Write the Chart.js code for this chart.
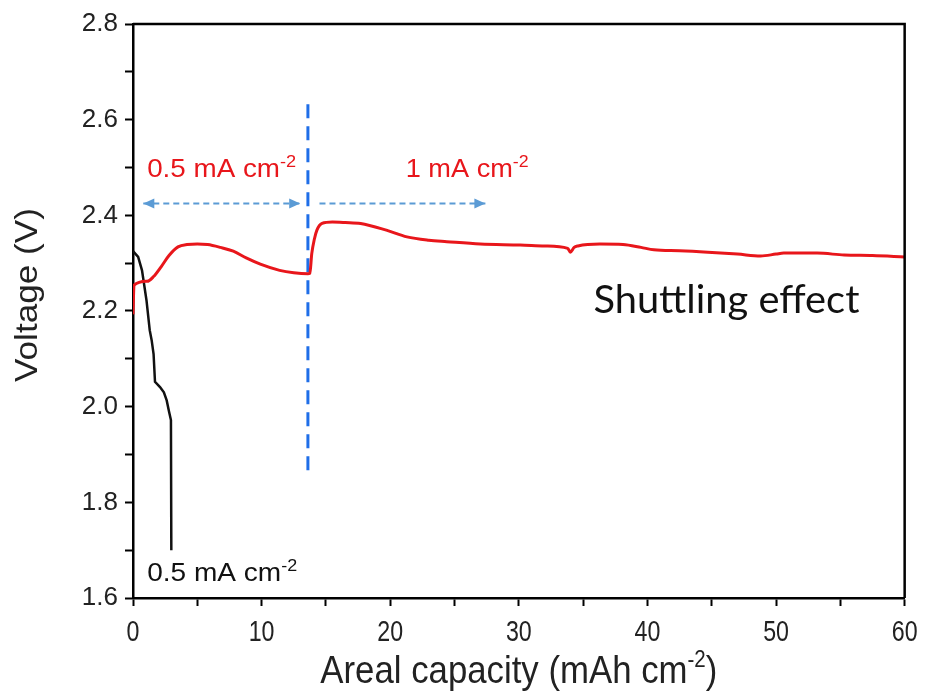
<!DOCTYPE html>
<html>
<head>
<meta charset="utf-8">
<script src="https://cdn.jsdelivr.net/npm/chart.js@4/dist/chart.umd.min.js"></script>
<style>
  html, body { margin: 0; padding: 0; background: #ffffff; }
  #wrap { width: 926px; height: 697px; }
</style>
</head>
<body>
<div id="wrap"><canvas id="c" width="926" height="697"></canvas></div>
<script>
// Cell with shuttling effect: charge curve, 0.5 mA cm-2 then 1 mA cm-2
const shuttleCapacity = [0, 0.08, 1.1, 1.6, 2.2, 2.8, 3.5, 4.2, 5.0, 5.8, 6.8, 7.8, 8.8, 9.9, 11.4, 12.5, 13.6,
  13.75, 13.9, 14.1, 14.3, 14.7, 15.5, 16.5, 17.7, 19.7, 21.3, 23.0, 24.4, 27.0, 30.1, 32.0, 33.8, 34.0, 34.3, 34.6,
  36.3, 38.1, 39.5, 40.5, 42.5, 44.7, 47.0, 48.8, 50.0, 50.6, 53.2, 55.3, 57.5, 60.0];
const shuttleVoltage = [2.193, 2.254, 2.262, 2.272, 2.293, 2.316, 2.334, 2.339, 2.340, 2.339, 2.333, 2.325, 2.311, 2.298, 2.285, 2.280, 2.278,
  2.279, 2.320, 2.350, 2.369, 2.383, 2.386, 2.385, 2.383, 2.369, 2.355, 2.348, 2.345, 2.340, 2.338, 2.336, 2.331, 2.323, 2.333, 2.336,
  2.340, 2.339, 2.333, 2.328, 2.326, 2.323, 2.319, 2.315, 2.319, 2.321, 2.321, 2.317, 2.316, 2.313];

// Normal cell: 0.5 mA cm-2
const normalCapacity = [0, 0.4, 0.7, 1.05, 1.3, 1.45, 1.6, 1.71, 2.1, 2.4, 2.62, 2.8, 2.95, 2.98];
const normalVoltage = [2.325, 2.313, 2.285, 2.222, 2.16, 2.139, 2.11, 2.052, 2.041, 2.030, 2.013, 1.99, 1.972, 1.70];

// Current switch marker and rate arrows
const switchCapacity = [13.6, 13.6];
const switchVoltage = [1.867, 2.635];
const arrowVoltage = 2.425;
const lowRateArrow = [0.8, 13.0];
const highRateArrow = [14.5, 27.4];

// Axis ticks
const xTickValues = [0, 10, 20, 30, 40, 50, 60];
const xTickLabels = ['0', '10', '20', '30', '40', '50', '60'];
const yTickValues = [1.6, 1.8, 2.0, 2.2, 2.4, 2.6, 2.8];
const yTickLabels = ['1.6', '1.8', '2.0', '2.2', '2.4', '2.6', '2.8'];

const RED = '#e8161b';
const SANS = "'Liberation Sans', Arial, sans-serif";
const pts = (xs, ys) => xs.map((x, i) => ({ x, y: ys[i] }));

function drawText(ctx, parts, x, y, opt) {
  // parts: [{t, sup}] drawn left to right; squeezed/stretched to opt.width or opt.sx
  ctx.save();
  const base = `${opt.size}px ${opt.family}`;
  const supF = `${opt.supSize || opt.size}px ${opt.family}`;
  let total = 0;
  const widths = parts.map(p => { ctx.font = p.sup ? supF : base; const w = ctx.measureText(p.t).width; total += w; return w; });
  const sx = opt.width ? opt.width / total : (opt.sx || 1);
  ctx.translate(x, y);
  if (opt.rotate) ctx.rotate(opt.rotate);
  ctx.scale(sx, 1);
  let cx = opt.align === 'center' ? -total / 2 : 0;
  ctx.fillStyle = opt.color;
  ctx.textBaseline = 'alphabetic';
  ctx.textAlign = 'left';
  parts.forEach((p, i) => {
    ctx.font = p.sup ? supF : base;
    ctx.fillText(p.t, cx, p.sup ? -(opt.raise || 0) : 0);
    cx += widths[i];
  });
  ctx.restore();
}

const decor = {
  id: 'decor',
  afterDraw(chart) {
    const { ctx, chartArea: a, scales: { x, y } } = chart;
    // closing frame
    ctx.save();
    ctx.strokeStyle = '#000';
    ctx.lineWidth = 2.5;
    ctx.beginPath();
    ctx.moveTo(a.left, a.top); ctx.lineTo(a.right, a.top); ctx.lineTo(a.right, a.bottom);
    ctx.stroke();
    ctx.restore();

    // condensed x tick labels at the scale's own tick positions
    x.ticks.forEach(t => {
      const i = xTickValues.indexOf(t.value);
      if (i < 0) return;
      drawText(ctx, [{ t: xTickLabels[i] }], x.getPixelForValue(t.value), 641,
        { size: 29, family: SANS, color: '#222', sx: 0.8, align: 'center' });
    });

    // arrow heads
    const head = (xv, dir) => {
      const px = x.getPixelForValue(xv), py = y.getPixelForValue(arrowVoltage);
      ctx.save();
      ctx.fillStyle = '#5b9bd5';
      ctx.beginPath();
      ctx.moveTo(px, py);
      ctx.lineTo(px - dir * 11, py - 5);
      ctx.lineTo(px - dir * 11, py + 5);
      ctx.closePath();
      ctx.fill();
      ctx.restore();
    };
    head(lowRateArrow[0], -1);
    head(lowRateArrow[1], 1);
    head(highRateArrow[1], 1);

    drawText(ctx, [{ t: '0.5 mA cm' }, { t: '-2', sup: true }], x.getPixelForValue(1.1), y.getPixelForValue(2.480),
      { size: 26, supSize: 17, family: SANS, color: RED, raise: 10, width: 149 });
    drawText(ctx, [{ t: '1 mA cm' }, { t: '-2', sup: true }], x.getPixelForValue(21.2), y.getPixelForValue(2.481),
      { size: 26, supSize: 17, family: SANS, color: RED, raise: 10, width: 123 });
    drawText(ctx, [{ t: '0.5 mA cm' }, { t: '-2', sup: true }], x.getPixelForValue(1.1), y.getPixelForValue(1.635),
      { size: 25, supSize: 16, family: SANS, color: '#111', raise: 10, width: 150 });
    drawText(ctx, [{ t: 'Shuttling effect' }], x.getPixelForValue(35.8), y.getPixelForValue(2.195),
      { size: 38, family: "Lato, 'Open Sans', sans-serif", color: '#111', width: 266 });

    // axis titles
    drawText(ctx, [{ t: 'Areal capacity (mAh cm' }, { t: '-2', sup: true }, { t: ')' }], (a.left + a.right) / 2, 683,
      { size: 39, supSize: 23, family: SANS, color: '#222', raise: 16, width: 397, align: 'center' });
    drawText(ctx, [{ t: 'Voltage (V)' }], 37, 295,
      { size: 31, family: SANS, color: '#222', width: 174, align: 'center', rotate: -Math.PI / 2 });
  }
};

new Chart(document.getElementById('c'), {
  type: 'line',
  data: {
    datasets: [
      { data: pts(shuttleCapacity, shuttleVoltage), borderColor: RED, borderWidth: 3, pointRadius: 0,
        cubicInterpolationMode: 'monotone', order: 0 },
      { data: pts(normalCapacity, normalVoltage), borderColor: '#111', borderWidth: 2.5, pointRadius: 0, tension: 0, order: 1 },
      { data: pts(switchCapacity, switchVoltage), borderColor: '#1f6ee8', borderWidth: 3, borderDash: [14, 8],
        pointRadius: 0, order: 2 },
      { data: pts(lowRateArrow, [arrowVoltage, arrowVoltage]), borderColor: '#5b9bd5', borderWidth: 2, borderDash: [6, 4],
        pointRadius: 0, order: 3 },
      { data: pts(highRateArrow, [arrowVoltage, arrowVoltage]), borderColor: '#5b9bd5', borderWidth: 2, borderDash: [6, 4],
        pointRadius: 0, order: 3 }
    ]
  },
  options: {
    responsive: false,
    animation: false,
    devicePixelRatio: 1,
    layout: { padding: { left: 0, top: 24, right: 21, bottom: 0 } },
    plugins: { legend: { display: false }, tooltip: { enabled: false } },
    scales: {
      x: {
        type: 'linear', min: 0, max: 60,
        afterFit(s) { s.height = 99; },
        border: { display: true, color: '#000', width: 2.5 },
        grid: { drawOnChartArea: false, drawTicks: true, tickLength: 8, tickWidth: 2, tickColor: '#000' },
        ticks: {
          stepSize: 5, autoSkip: false, maxRotation: 0, padding: 8, color: 'rgba(0,0,0,0)',
          font: { family: SANS, size: 24 },
          callback: v => { const i = xTickValues.indexOf(v); return i >= 0 ? xTickLabels[i] : ''; }
        }
      },
      y: {
        type: 'linear', min: 1.6, max: 2.8,
        afterFit(s) { s.width = 133; },
        border: { display: true, color: '#000', width: 2.5 },
        grid: { drawOnChartArea: false, drawTicks: true, tickLength: 8, tickWidth: 2, tickColor: '#000' },
        ticks: {
          stepSize: 0.1, autoSkip: false, maxTicksLimit: 30, padding: 7, color: '#222',
          font: { family: SANS, size: 26 },
          callback: v => { const i = yTickValues.findIndex(t => Math.abs(t - v) < 1e-6); return i >= 0 ? yTickLabels[i] : ''; }
        }
      }
    }
  },
  plugins: [decor]
});
</script>
</body>
</html>
